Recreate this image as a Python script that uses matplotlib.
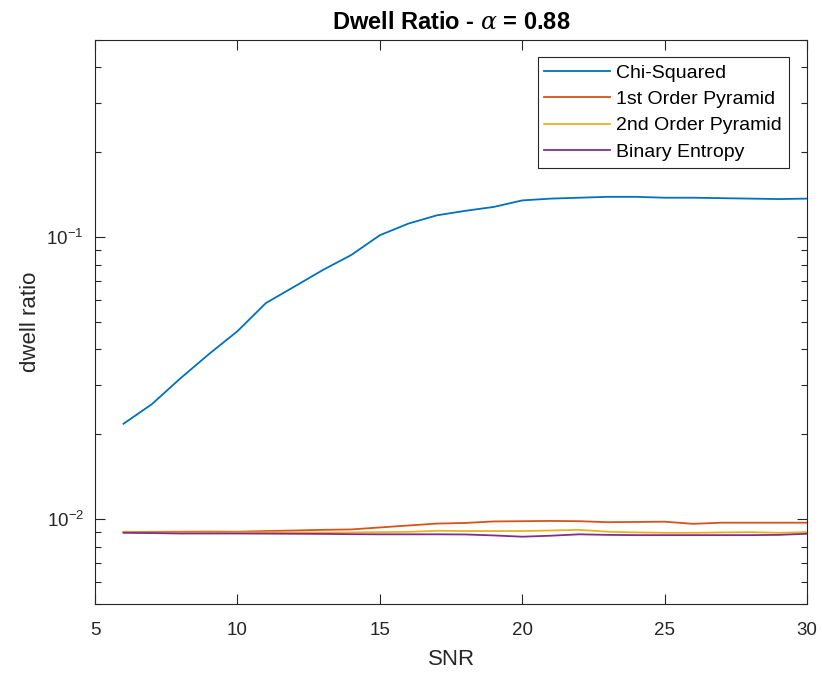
import matplotlib.pyplot as plt
from matplotlib.ticker import LogLocator, NullFormatter

plt.rcParams['font.family'] = ['Liberation Sans', 'DejaVu Sans']
plt.rcParams['mathtext.fontset'] = 'dejavuserif'

# SNR sweep
snr = list(range(6, 31))

chi_squared = [0.0218, 0.0256, 0.0316, 0.0385, 0.0464, 0.0584, 0.0668, 0.0765,
               0.0865, 0.1016, 0.1117, 0.1195, 0.124, 0.128, 0.135, 0.137,
               0.138, 0.139, 0.139, 0.138, 0.138, 0.1375, 0.137, 0.1365, 0.137]
first_order = [0.00902, 0.00902, 0.00903, 0.00904, 0.00903, 0.00908, 0.00912, 0.00917,
               0.00920, 0.00935, 0.00950, 0.00965, 0.00970, 0.00982, 0.00984, 0.00986,
               0.00984, 0.00976, 0.00978, 0.00980, 0.00963, 0.00972, 0.00972, 0.00972, 0.00972]
second_order = [0.00900, 0.00898, 0.00897, 0.00897, 0.00898, 0.00898, 0.00898, 0.00897,
                0.00898, 0.00900, 0.00902, 0.00910, 0.00908, 0.00908, 0.00908, 0.00912,
                0.00917, 0.00903, 0.00898, 0.00895, 0.00895, 0.00898, 0.00900, 0.00895, 0.00900]
binary_entropy = [0.00895, 0.00893, 0.00890, 0.00890, 0.00890, 0.00889, 0.00888, 0.00887,
                  0.00885, 0.00884, 0.00884, 0.00884, 0.00883, 0.00876, 0.00867, 0.00874,
                  0.00884, 0.00880, 0.00878, 0.00878, 0.00878, 0.00878, 0.00878, 0.00880, 0.00888]

labels = ["Chi-Squared", "1st Order Pyramid", "2nd Order Pyramid", "Binary Entropy"]
colors = ["#0072BD", "#D95319", "#EDB120", "#7E2F8E"]
axis_color = "#262626"

fig = plt.figure(figsize=(8.22, 6.75), dpi=100)
ax = fig.add_axes([0.1156, 0.105, 0.8662, 0.8357])

for series, label, color in zip([chi_squared, first_order, second_order, binary_entropy], labels, colors):
    ax.plot(snr, series, color=color, lw=1.3, label=label)

ax.set_yscale("log")
ax.set_xlim(5, 30)
ax.set_ylim(0.005, 0.5)
ax.set_xticks([5, 10, 15, 20, 25, 30])
ax.yaxis.set_minor_locator(LogLocator(base=10, subs=range(2, 10)))
ax.yaxis.set_minor_formatter(NullFormatter())

ax.tick_params(which="both", direction="in", top=True, right=True,
               colors=axis_color, labelsize=13.5)
ax.tick_params(axis="x", pad=13)
ax.tick_params(axis="y", pad=8)
ax.tick_params(which="major", length=7, width=0.8)
ax.tick_params(which="minor", length=4, width=0.8)
for spine in ax.spines.values():
    spine.set_color(axis_color)
    spine.set_linewidth(0.8)

ax.set_xlabel("SNR", fontsize=16, color=axis_color, labelpad=7)
ax.set_ylabel("dwell ratio", fontsize=16, color=axis_color, labelpad=4)
ax.set_title(r"Dwell Ratio - $\alpha$ = 0.88", fontsize=17, fontweight="bold", pad=8)

leg = ax.legend(loc="upper right", bbox_to_anchor=(0.9745, 0.9695), fontsize=14,
                handlelength=3.4, handletextpad=0.3, borderpad=0.35,
                labelspacing=0.45, fancybox=False, framealpha=1, borderaxespad=0)
leg.get_frame().set_edgecolor(axis_color)
leg.get_frame().set_linewidth(0.8)

fig.savefig("out.png", dpi=100)
